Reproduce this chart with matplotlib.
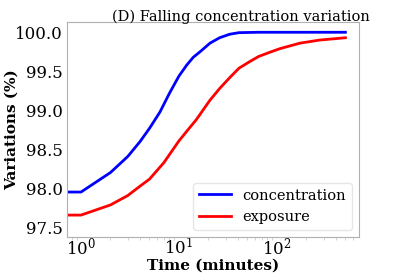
import numpy as np
import matplotlib
matplotlib.use("Agg")
import matplotlib.pyplot as plt

# data
t_conc = [0.5, 1, 2, 3, 4, 5, 6.4, 8, 10, 12, 14, 16.4, 20.7, 26, 33, 41, 65, 500]
conc = [97.955, 97.955, 98.205, 98.41, 98.60, 98.77, 98.98, 99.22, 99.44, 99.58,
        99.68, 99.75, 99.86, 99.93, 99.975, 99.995, 100.0, 100.0]

t_exp = [0.5, 1, 2, 3, 4, 5, 7, 10, 12.5, 15, 20.7, 26, 33, 41, 52, 65, 85, 107, 171, 272, 500]
expo = [97.66, 97.66, 97.79, 97.91, 98.03, 98.12, 98.33, 98.61, 98.76, 98.88, 99.13,
        99.28, 99.42, 99.54, 99.62, 99.69, 99.745, 99.79, 99.86, 99.90, 99.93]

plt.rcParams['font.family'] = 'DejaVu Serif'
plt.rcParams['mathtext.fontset'] = 'dejavuserif'

fig = plt.figure(figsize=(3.99, 2.73), dpi=100)
ax = fig.add_axes([0.168, 0.132, 0.732, 0.787])

ax.plot(t_conc, conc, color='blue', lw=2, label='concentration')
ax.plot(t_exp, expo, color='red', lw=2, label='exposure')

ax.set_xscale('log')
ax.set_xlim(0.72, 690)
ax.set_ylim(97.38, 100.13)
ax.set_yticks([97.5, 98.0, 98.5, 99.0, 99.5, 100.0])

for s in ax.spines.values():
    s.set_color('#b0b0b0')
ax.tick_params(which='major', length=0, labelsize=12, pad=3)
ax.tick_params(axis='x', which='major', pad=0)
ax.tick_params(which='minor', length=2, color='#cccccc', width=0.6)

ax.set_xlabel('Time (minutes)', fontsize=11, fontweight='bold')
ax.set_ylabel('Variations (%)', fontsize=11, fontweight='bold')
ax.xaxis.set_label_coords(0.5, -0.1)
ax.yaxis.set_label_coords(-0.165, 0.5)

fig.text(0.603, 0.924, '(D) Falling concentration variation', fontsize=10.5,
         ha='center', va='baseline')

leg = ax.legend(loc='lower right', fontsize=10.5, frameon=True,
                borderaxespad=0.5, handlelength=2.2)
leg.get_frame().set_edgecolor('#e0e0e0')

fig.savefig('out.png', dpi=100)
